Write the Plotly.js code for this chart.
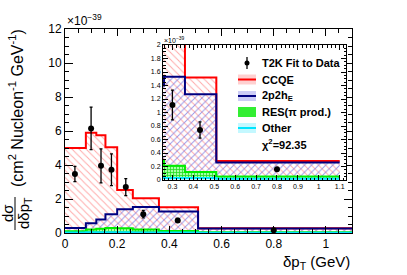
<!DOCTYPE html>
<html><head><meta charset="utf-8">
<script src="https://cdn.plot.ly/plotly-3.0.1.min.js"></script>
<style>html,body{margin:0;padding:0;background:#fff}#c{width:407px;height:275px}</style>
</head><body><div id="c"></div>
<script>
// bin edges (GeV) and histogram heights (x 1e-39)
const binEdges = [0, 0.08, 0.12, 0.155, 0.2, 0.26, 0.36, 0.51, 1.1];
const ccqe     = [5.0, 5.9, 5.75, 5.05, 2.53, 2.05, 1.52, 0.28];
const twop2h   = [0.29, 0.57, 0.8, 1.1, 1.4, 1.53, 1.27, 0.26];
const resPi    = [0.1, 0.2, 0.25, 0.3, 0.28, 0.21, 0.12, 0.05];
const other    = [0.03, 0.04, 0.04, 0.04, 0.04, 0.03, 0.03, 0.02];
// T2K data points
const dataX   = [0.038, 0.1, 0.138, 0.178, 0.233, 0.3, 0.432, 0.8];
const dataY   = [3.47, 6.15, 3.95, 3.72, 2.7, 1.11, 0.74, 0.16];
const dataErr = [0.45, 1.25, 1.0, 0.93, 0.5, 0.22, 0.12, 0.02];
const names = ['T2K Fit to Data', 'CCQE', '2p2h<sub>E</sub>', 'RES(π prod.)', 'Other'];
const chi2Text = 'χ<sup>2</sup>=92.35';
const xTickVals = [0, 0.2, 0.4, 0.6, 0.8, 1];

const FONT = 'Liberation Sans, Arial, Helvetica, sans-serif';
function step(v){ return v.concat([v[v.length-1]]); }

const styles = [
  {vals: ccqe, name: names[1], line: '#ff0000', swatch:'rgba(255,120,120,0.35)', pat: {shape:'\\', fgcolor:'rgba(255,100,100,0.55)', bgcolor:'rgba(0,0,0,0)', size:5, solidity:0.2}},
  {vals: twop2h, name: names[2], line: '#000080', swatch:'rgba(110,110,230,0.35)', pat: {shape:'/', fgcolor:'rgba(90,90,220,0.6)', bgcolor:'rgba(0,0,0,0)', size:5, solidity:0.2}},
  {vals: resPi, name: names[3], line: '#00ee00', swatch:'#33ee33', pat: {shape:'+', fgcolor:'#22dd22', bgcolor:'#a8ffa8', size:3, solidity:0.45}, noLine:true},
  {vals: other, name: names[4], line: '#00e5ff', swatch:'#c4f8ff', pat: {shape:'.', fgcolor:'#66e8ff', bgcolor:'#d8fbff', size:3, solidity:0.4}}
];

const traces = [];
[['x','y'],['x2','y2']].forEach(([xa,ya]) => {
  styles.forEach(s => {
    traces.push({
      type:'scatter', mode:'lines', x: binEdges, y: step(s.vals),
      line:{shape:'hv', color:s.line, width:2},
      fill:'tozeroy', fillcolor:'rgba(0,0,0,0)', fillpattern: s.pat,
      name: s.name, showlegend:false, xaxis: xa, yaxis: ya, hoverinfo:'skip'
    });
  });
  traces.push({
    type:'scatter', mode:'markers', x: dataX, y: dataY,
    error_y:{type:'data', array: dataErr, visible:true, color:'black', thickness:1.3, width:1.5},
    marker:{color:'black', size:6},
    name: names[0], showlegend:false, xaxis: xa, yaxis: ya, cliponaxis: true
  });
});

const axBase = {showline:true, mirror:'allticks', linecolor:'black', linewidth:1,
  ticks:'inside', tickcolor:'black', showgrid:false, zeroline:false};

// pixel -> paper helpers (plot area: x 65..352, y 29..233)
const PX = p => (p-65)/287, PY = p => (233-p)/204;

// manual legend (inside the inset)
const legRows = [63, 79.5, 96, 112, 128];
const symX0 = 238, symX1 = 256, textX = 260;
const annotations = [], shapes = [];
names.forEach((n, i) => {
  const yc = legRows[i];
  annotations.push({xref:'paper', yref:'paper', x:PX(textX), y:PY(yc), xanchor:'left', yanchor:'middle',
    showarrow:false, text:n, font:{family:FONT, size:11, weight:'bold'}});
  if (i === 0) {
    shapes.push({type:'line', xref:'paper', yref:'paper', x0:PX(247), x1:PX(247), y0:PY(yc-6), y1:PY(yc+6), line:{color:'black', width:1.3}});
    shapes.push({type:'circle', xref:'paper', yref:'paper', x0:PX(244.5), x1:PX(249.5), y0:PY(yc-2.5), y1:PY(yc+2.5), fillcolor:'black', line:{color:'black', width:0}});
  } else {
    const s = styles[i-1];
    shapes.push({type:'rect', xref:'paper', yref:'paper', x0:PX(symX0), x1:PX(symX1), y0:PY(yc-5), y1:PY(yc+5), fillcolor:s.swatch, line:{width:0}});
    if (!s.noLine) shapes.push({type:'line', xref:'paper', yref:'paper', x0:PX(symX0), x1:PX(symX1), y0:PY(yc), y1:PY(yc), line:{color:s.line, width:2}});
  }
});
annotations.push({xref:'paper', yref:'paper', x:PX(textX), y:PY(144), xanchor:'left', yanchor:'middle', showarrow:false,
  text:chi2Text, font:{family:FONT, size:11, weight:'bold'}});

annotations.push(
  {xref:'paper', yref:'paper', x:1, y:PY(262), xanchor:'right', yanchor:'middle', showarrow:false,
   text:'δp<sub>T</sub> (GeV)', font:{family:FONT, size:15}},
  {xref:'paper', yref:'paper', x:PX(16), y:PY(108), xanchor:'center', yanchor:'middle', showarrow:false,
   textangle:-90, text:'(cm<sup>2</sup> Nucleon<sup>-1</sup> GeV<sup>-1</sup>)', font:{family:FONT, size:16}},
  {xref:'paper', yref:'paper', x:PX(7), y:PY(213), xanchor:'center', yanchor:'middle', showarrow:false,
   textangle:-90, text:'dσ', font:{family:FONT, size:15}},
  {xref:'paper', yref:'paper', x:PX(24), y:PY(213), xanchor:'center', yanchor:'middle', showarrow:false,
   textangle:-90, text:'dδp<sub>T</sub>', font:{family:FONT, size:15}},
  {xref:'paper', yref:'paper', x:0, y:PY(20), xanchor:'left', yanchor:'middle', showarrow:false,
   text:'×10<sup>−39</sup>', font:{family:FONT, size:12}},
  {xref:'paper', yref:'paper', x:PX(162), y:PY(40), xanchor:'left', yanchor:'middle', showarrow:false,
   text:'×10<sup>−39</sup>', font:{family:FONT, size:7}}
);
shapes.push({type:'line', xref:'paper', yref:'paper', x0:PX(15), x1:PX(15), y0:PY(197), y1:PY(230),
  line:{color:'black', width:1}});

const layout = {
  width:407, height:275,
  margin:{l:65, r:55, t:29, b:42, pad:0},
  paper_bgcolor:'white', plot_bgcolor:'white',
  font:{family:FONT, color:'black'},
  showlegend:false,
  xaxis: Object.assign({}, axBase, {range:[0,1.1], tickvals:xTickVals, ticklen:7,
    minor:{dtick:0.05, tick0:0, ticklen:4, ticks:'inside', tickcolor:'black'},
    tickfont:{family:FONT, size:12}}),
  yaxis: Object.assign({}, axBase, {range:[0,12], dtick:2, tick0:0, ticklen:8,
    minor:{dtick:0.5, tick0:0, ticklen:4, ticks:'inside', tickcolor:'black'},
    tickfont:{family:FONT, size:12}}),
  xaxis2: Object.assign({}, axBase, {domain:[PX(163), PX(346)], anchor:'y2', range:[0.255,1.13],
    dtick:0.1, tick0:0, ticklen:5,
    minor:{dtick:0.02, tick0:0, ticklen:2.5, ticks:'inside', tickcolor:'black'},
    tickfont:{family:FONT, size:7}}),
  yaxis2: Object.assign({}, axBase, {domain:[PY(180), PY(45)], anchor:'x2', range:[0,2],
    dtick:0.2, tick0:0, ticklen:5,
    minor:{dtick:0.05, tick0:0, ticklen:2.5, ticks:'inside', tickcolor:'black'},
    tickfont:{family:FONT, size:7}}),
  annotations: annotations,
  shapes: shapes
};

Plotly.newPlot('c', traces, layout, {displayModeBar:false, staticPlot:true});
</script></body></html>
